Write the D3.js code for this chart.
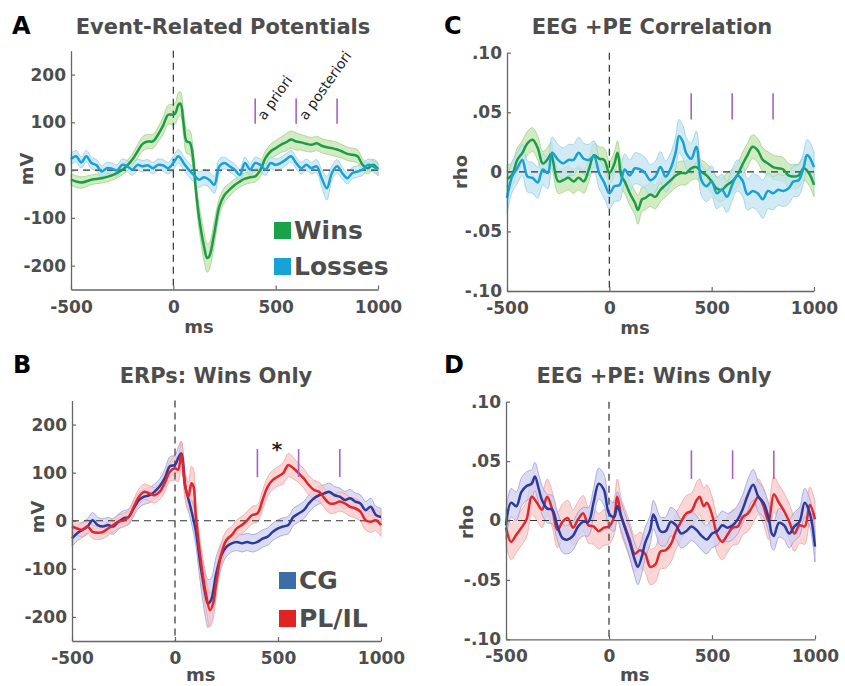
<!DOCTYPE html>
<html>
<head>
<meta charset="utf-8">
<script src="https://cdn.jsdelivr.net/npm/d3@7"></script>
<style>
  body { margin: 0; background: #fff; }
  text { font-family: "DejaVu Sans", sans-serif; }
</style>
</head>
<body>
<div id="fig"></div>
<script>
// [time ms, value, half-width of shaded band]
var winsERP = [[-500,-20,12],[-450,-26,12],[-400,-20,10],[-350,-17,10],[-300,-11,10],[-250,0,10],[-200,22,12],[-175,39,14],[-150,55,15],[-125,60,15],[-100,60,15],[-75,74,15],[-50,93,18],[-25,116,20],[0,116,22],[10,119,22],[25,137,25],[35,139,25],[50,98,25],[65,60,25],[80,58,25],[95,30,22],[110,-41,20],[125,-97,25],[150,-160,30],[165,-184,30],[175,-181,28],[200,-132,25],[225,-76,18],[250,-52,15],[275,-41,14],[300,-31,12],[325,-24,12],[350,-18,12],[375,-15,12],[400,-13,12],[425,0,14],[450,25,15],[475,39,15],[500,46,16],[525,53,16],[550,58,18],[575,64,18],[600,60,18],[625,58,16],[650,55,16],[675,53,15],[700,56,15],[725,51,15],[750,48,15],[775,46,15],[800,43,15],[825,39,14],[850,34,14],[875,32,14],[900,29,14],[925,11,12],[950,4,12],[975,11,12],[1000,2,14]];
var lossesERP = [[-500,23,12],[-475,29,12],[-450,16,12],[-425,29,12],[-400,15,12],[-375,10,12],[-350,-3,12],[-325,4,12],[-300,3,12],[-275,-1,12],[-250,11,12],[-225,8,12],[-200,1,12],[-175,11,12],[-150,8,12],[-125,10,12],[-100,4,12],[-75,11,12],[-50,10,12],[-25,4,12],[0,15,14],[25,29,14],[50,15,14],[75,1,14],[100,-10,15],[125,-20,16],[150,-15,16],[175,-20,16],[200,-31,18],[225,8,15],[250,15,12],[275,8,12],[300,1,12],[325,-10,12],[350,15,12],[375,1,12],[400,15,12],[425,11,12],[450,1,12],[475,15,12],[500,11,12],[525,15,12],[550,22,12],[575,29,12],[600,15,12],[625,4,12],[650,11,12],[675,4,12],[700,8,14],[725,-17,18],[750,-38,25],[775,-6,15],[800,8,14],[825,-6,12],[850,-17,12],[875,-6,12],[900,-3,12],[925,1,12],[950,11,12],[975,8,12],[1000,1,12]];

var winsRho = [[-500,-0.006,0.012],[-475,-0.0025,0.01],[-450,0.010,0.01],[-425,0.016,0.01],[-400,0.024,0.01],[-375,0.027,0.01],[-350,0.020,0.01],[-325,0.007,0.01],[-300,0.011,0.01],[-285,0.015,0.01],[-275,0.009,0.01],[-250,-0.008,0.01],[-225,-0.007,0.01],[-200,-0.005,0.01],[-175,-0.008,0.01],[-150,-0.005,0.01],[-125,-0.008,0.01],[-100,0.002,0.01],[-75,0.014,0.01],[-50,0.011,0.01],[-25,0.010,0.01],[0,-0.001,0.01],[25,0.007,0.01],[40,0.016,0.01],[60,-0.004,0.01],[75,-0.008,0.01],[100,-0.018,0.01],[125,-0.026,0.01],[140,-0.032,0.012],[160,-0.023,0.01],[175,-0.022,0.01],[200,-0.019,0.01],[225,-0.021,0.01],[250,-0.015,0.01],[275,-0.011,0.01],[300,-0.007,0.01],[325,-0.003,0.01],[350,-0.001,0.01],[375,-0.001,0.01],[400,0.003,0.01],[425,0.004,0.01],[450,0.000,0.01],[475,-0.003,0.01],[500,-0.008,0.01],[525,-0.014,0.01],[550,-0.015,0.01],[575,-0.011,0.01],[600,-0.008,0.01],[625,-0.003,0.01],[650,0.006,0.01],[675,0.014,0.01],[700,0.021,0.01],[725,0.018,0.01],[750,0.010,0.01],[775,0.007,0.01],[800,0.004,0.01],[825,0.003,0.01],[850,0.002,0.01],[875,-0.003,0.01],[900,-0.004,0.01],[925,-0.003,0.01],[950,0.003,0.01],[975,-0.001,0.01],[1000,-0.011,0.01]];
var lossesRho = [[-500,-0.022,0.013],[-475,-0.004,0.013],[-450,0.003,0.013],[-425,0.010,0.013],[-400,-0.004,0.013],[-375,-0.005,0.013],[-350,-0.009,0.013],[-325,0.002,0.013],[-300,-0.001,0.013],[-280,0.016,0.013],[-250,0.010,0.013],[-225,0.007,0.013],[-200,0.010,0.013],[-175,0.010,0.013],[-150,0.016,0.013],[-125,0.011,0.013],[-100,0.010,0.013],[-75,0.013,0.013],[-50,-0.001,0.013],[-25,-0.009,0.013],[0,-0.018,0.013],[25,-0.012,0.013],[50,-0.011,0.013],[75,0.002,0.013],[100,-0.003,0.013],[125,0.003,0.013],[150,0.002,0.013],[175,-0.001,0.013],[200,-0.007,0.013],[225,-0.004,0.013],[250,0.004,0.013],[275,-0.004,0.013],[300,0.003,0.013],[325,0.017,0.013],[340,0.030,0.014],[360,0.025,0.014],[375,0.016,0.013],[400,0.011,0.013],[425,0.021,0.013],[450,-0.007,0.013],[475,-0.012,0.013],[500,-0.008,0.013],[525,-0.018,0.013],[550,-0.015,0.013],[575,-0.021,0.013],[600,-0.011,0.013],[625,-0.003,0.013],[650,-0.007,0.013],[675,-0.019,0.013],[700,-0.016,0.014],[725,-0.018,0.015],[750,-0.023,0.016],[775,-0.016,0.015],[800,-0.018,0.014],[825,-0.015,0.013],[850,-0.016,0.013],[875,-0.014,0.013],[900,-0.008,0.013],[925,-0.007,0.013],[950,0.004,0.013],[965,0.014,0.013],[975,0.013,0.013],[1000,0.004,0.013]];

var cgERP = [[-500,-37,16],[-475,-26,16],[-450,-19,16],[-425,-12,16],[-400,1,16],[-375,-9,16],[-350,-12,16],[-325,-9,16],[-300,-12,16],[-275,-2,16],[-250,5,16],[-225,8,16],[-200,26,16],[-175,43,16],[-150,50,16],[-125,53,16],[-100,60,16],[-75,71,16],[-50,88,18],[-25,113,20],[0,116,20],[15,130,22],[30,140,25],[50,71,25],[75,29,25],[100,-19,30],[125,-96,40],[150,-158,48],[160,-172,50],[175,-165,45],[200,-110,35],[225,-72,25],[250,-54,20],[275,-47,18],[300,-44,18],[325,-47,18],[350,-44,18],[375,-47,18],[400,-44,18],[425,-37,18],[450,-33,18],[475,-23,18],[500,-16,18],[525,-12,18],[550,-9,18],[575,8,18],[600,15,18],[625,22,18],[650,36,18],[675,47,18],[700,53,18],[725,57,18],[750,60,18],[775,53,18],[800,50,18],[825,43,18],[850,47,18],[875,40,18],[900,36,18],[925,22,18],[950,29,18],[975,12,18],[1000,8,18]];
var plilERP = [[-500,-12,14],[-475,-16,14],[-450,-19,14],[-425,-12,14],[-400,-23,14],[-375,-25,14],[-350,-23,14],[-325,-16,14],[-300,-9,14],[-275,-2,14],[-250,1,14],[-225,8,14],[-200,29,16],[-175,50,16],[-150,60,16],[-125,57,16],[-100,53,16],[-75,60,16],[-50,78,18],[-25,102,20],[0,109,25],[15,106,25],[30,137,28],[50,71,28],[65,50,30],[80,78,35],[90,71,35],[100,15,30],[125,-82,30],[150,-151,32],[170,-186,35],[185,-172,32],[200,-130,28],[225,-68,22],[250,-40,20],[275,-30,18],[300,-16,18],[325,-9,18],[350,1,18],[375,12,18],[400,15,18],[425,43,20],[450,71,20],[475,85,20],[500,92,20],[525,99,22],[550,116,24],[575,109,22],[600,99,20],[625,88,20],[650,74,20],[675,64,20],[700,60,20],[725,47,20],[750,36,20],[775,36,20],[800,40,20],[825,36,20],[850,29,20],[875,26,20],[900,19,20],[925,1,20],[950,-2,22],[975,1,22],[1000,-9,24]];

var cgRho = [[-500,-0.004,0.012],[-475,0.015,0.012],[-450,0.012,0.012],[-425,0.024,0.012],[-400,0.029,0.012],[-375,0.031,0.012],[-360,0.037,0.012],[-340,0.026,0.012],[-325,0.017,0.012],[-300,0.010,0.012],[-275,0.009,0.012],[-250,-0.005,0.012],[-225,-0.015,0.012],[-200,-0.016,0.012],[-175,-0.013,0.012],[-150,-0.005,0.012],[-125,-0.001,0.012],[-100,-0.001,0.012],[-75,0.015,0.012],[-50,0.031,0.013],[-25,0.026,0.013],[0,0.006,0.012],[25,0.003,0.012],[40,0.012,0.012],[60,0.003,0.012],[75,-0.005,0.012],[100,-0.018,0.013],[125,-0.033,0.014],[140,-0.039,0.015],[160,-0.030,0.014],[175,-0.019,0.013],[200,-0.008,0.012],[215,0.005,0.012],[225,0.002,0.012],[250,-0.009,0.012],[275,-0.009,0.012],[300,-0.001,0.012],[325,-0.004,0.012],[350,-0.011,0.012],[375,-0.009,0.012],[400,-0.005,0.012],[425,-0.008,0.012],[450,-0.013,0.012],[475,-0.016,0.012],[500,-0.011,0.012],[525,-0.009,0.012],[550,-0.004,0.012],[575,-0.006,0.012],[600,-0.004,0.012],[625,0.001,0.012],[650,0.010,0.012],[675,0.022,0.013],[700,0.030,0.013],[725,0.020,0.013],[750,0.015,0.012],[775,0.002,0.012],[790,-0.011,0.012],[800,-0.013,0.012],[825,-0.002,0.012],[850,-0.004,0.012],[875,-0.011,0.012],[900,-0.005,0.012],[925,-0.001,0.012],[950,0.015,0.012],[975,0.006,0.012],[1000,-0.022,0.013]];
var plilRho = [[-500,-0.006,0.015],[-475,-0.018,0.015],[-450,-0.012,0.015],[-425,-0.006,0.015],[-400,0.001,0.015],[-375,0.020,0.015],[-350,0.015,0.015],[-325,0.009,0.015],[-300,0.020,0.015],[-275,0.009,0.015],[-250,-0.008,0.015],[-225,-0.001,0.015],[-200,0.002,0.015],[-175,-0.006,0.015],[-150,0.001,0.015],[-125,0.006,0.015],[-100,-0.004,0.015],[-75,-0.005,0.015],[-50,-0.009,0.015],[-25,-0.006,0.015],[0,-0.005,0.015],[25,0.003,0.015],[40,0.020,0.015],[60,0.003,0.015],[75,-0.004,0.015],[100,-0.016,0.015],[125,-0.028,0.015],[150,-0.025,0.015],[175,-0.028,0.015],[200,-0.039,0.015],[225,-0.037,0.015],[250,-0.026,0.015],[275,-0.025,0.015],[300,-0.020,0.015],[325,-0.009,0.015],[350,-0.001,0.015],[375,0.006,0.015],[400,0.008,0.015],[425,0.017,0.015],[440,0.020,0.015],[460,0.012,0.015],[475,0.015,0.015],[500,0.005,0.015],[525,-0.012,0.015],[550,-0.018,0.015],[575,-0.012,0.015],[600,-0.006,0.015],[625,-0.005,0.015],[650,0.003,0.015],[675,0.006,0.015],[700,0.013,0.015],[725,0.020,0.015],[750,0.012,0.015],[775,-0.001,0.015],[800,0.022,0.015],[825,0.015,0.015],[850,0.008,0.015],[875,-0.001,0.015],[900,-0.011,0.015],[925,-0.004,0.015],[950,-0.005,0.015],[975,0.013,0.015],[1000,0.001,0.015]];

var timeTicks = [-500, 0, 500, 1000];
var erpTicks = [-200, -100, 0, 100, 200];
var rhoTicks = [-0.10, -0.05, 0, 0.05, 0.10];
var windowMarks = [400, 600, 800];
var windowNames = ["a priori", "a posteriori"];

var W = 845, H = 686;
var svg = d3.select("#fig").append("svg")
    .attr("width", W).attr("height", H)
    .style("background", "#fff");

var GRAY = "#4d4d4d";
var colors = {
    wins:   {line: "#1d9c47", band: "#c4e4ad", edge: "#9fd283", key: "#1aa24a"},
    losses: {line: "#17a1d6", band: "#c2e3f0", edge: "#93cfe6", key: "#18a3d8"},
    cg:     {line: "#2b3a9e", band: "#cfcff0", edge: "#9d9dd6", key: "#3b6ea8"},
    plil:   {line: "#e2262b", band: "#f8c8c8", edge: "#f1a3a3", key: "#e02424"}
};

// plain hyphen minus, no thousands separator
function intFmt(d){ return String(d); }
function rhoFmt(d){
    if (d == 0) return "0";
    var s = Math.abs(d).toFixed(2).replace("0.", ".");
    return d < 0 ? "-" + s : s;
}

function drawPanel(p){
    var g = svg.append("g");
    var x = d3.scaleLinear().domain([-500, 1000]).range([p.x0, p.x1]);
    var y = d3.scaleLinear().domain(p.yDomain).range([p.y1, p.y0]);

    // shaded error bands
    p.series.forEach(function(s){
        var area = d3.area()
            .curve(d3.curveCatmullRom)
            .x(function(d){ return x(d[0]); })
            .y0(function(d){ return y(d[1] - d[2]); })
            .y1(function(d){ return y(d[1] + d[2]); });
        g.append("path").datum(s.data)
            .attr("d", area)
            .attr("fill", colors[s.key].band)
            .attr("fill-opacity", 0.75)
            .attr("stroke", colors[s.key].edge)
            .attr("stroke-width", 0.8);
    });

    // zero lines
    g.append("line")
        .attr("x1", p.x0).attr("x2", p.x1)
        .attr("y1", y(0)).attr("y2", y(0))
        .attr("stroke", "#333").attr("stroke-width", 1.2)
        .attr("stroke-dasharray", "7,5");
    g.append("line")
        .attr("x1", x(0)).attr("x2", x(0))
        .attr("y1", p.y0).attr("y2", p.y1)
        .attr("stroke", "#333").attr("stroke-width", 1.2)
        .attr("stroke-dasharray", "7,5");

    p.series.forEach(function(s){
        var line = d3.line()
            .curve(d3.curveCatmullRom)
            .x(function(d){ return x(d[0]); })
            .y(function(d){ return y(d[1]); });
        g.append("path").datum(s.data)
            .attr("d", line)
            .attr("fill", "none")
            .attr("stroke", colors[s.key].line)
            .attr("stroke-width", 2.5);
    });

    // purple window marks
    windowMarks.forEach(function(t){
        g.append("line")
            .attr("x1", x(t)).attr("x2", x(t))
            .attr("y1", y(p.markRange[0])).attr("y2", y(p.markRange[1]))
            .attr("stroke", "#a463c6").attr("stroke-width", 1.6);
    });

    // axes
    var xAxis = d3.axisBottom(x).tickValues(timeTicks)
        .tickSizeInner(-4).tickSizeOuter(0).tickPadding(11)
        .tickFormat(intFmt);
    var yAxis = d3.axisLeft(y).tickValues(p.ticks)
        .tickSizeInner(-4).tickSizeOuter(0).tickPadding(5)
        .tickFormat(p.fmt);
    var gx = g.append("g").attr("transform", "translate(0," + p.y1 + ")").call(xAxis);
    var gy = g.append("g").attr("transform", "translate(" + p.x0 + ",0)").call(yAxis);
    [gx, gy].forEach(function(a){
        a.select(".domain").attr("stroke", "#666").attr("stroke-width", 1.3);
        a.selectAll(".tick line").attr("stroke", "#666").attr("stroke-width", 1.2);
        a.selectAll(".tick text")
            .attr("fill", GRAY)
            .style("font-family", "DejaVu Sans")
            .style("font-weight", "bold")
            .style("font-size", "17px");
    });

    g.append("text")
        .attr("x", x(125)).attr("y", Math.min(p.y1 + 43, H - 5))
        .attr("text-anchor", "middle")
        .attr("fill", GRAY)
        .style("font-weight", "bold").style("font-size", "18px")
        .text("ms");

    g.append("text")
        .attr("transform", "translate(" + p.ylabX + "," + p.ylabY + ") rotate(-90)")
        .attr("text-anchor", "middle")
        .attr("fill", GRAY)
        .style("font-weight", "bold").style("font-size", "18px")
        .text(p.ylab);

    g.append("text")
        .attr("x", p.titleX).attr("y", p.titleY)
        .attr("text-anchor", "middle")
        .attr("fill", GRAY)
        .style("font-weight", "bold").style("font-size", "21px")
        .text(p.title);

    g.append("text")
        .attr("x", p.letterX).attr("y", p.letterY)
        .attr("fill", "#000")
        .style("font-weight", "bold").style("font-size", "24px")
        .text(p.letter);

    if (p.legend){
        p.series.forEach(function(s, i){
            var top = p.legend[1] + i * p.legend[2];
            g.append("rect")
                .attr("x", p.legend[0]).attr("y", top)
                .attr("width", 17).attr("height", 17)
                .attr("fill", colors[s.key].key);
            g.append("text")
                .attr("x", p.legend[0] + 20).attr("y", top + 17)
                .attr("fill", GRAY)
                .style("font-weight", "bold").style("font-size", "25px")
                .text(s.name);
        });
    }
    return {g: g, x: x, y: y};
}

var A = drawPanel({
    letter: "A", letterX: 12, letterY: 34,
    title: "Event-Related Potentials", titleX: 223, titleY: 34,
    x0: 71, x1: 378, y0: 50.7, y1: 289.5,
    yDomain: [-250, 250], ticks: erpTicks, fmt: intFmt,
    ylab: "mV", ylabX: 33, ylabY: 169,
    markRange: [97, 150],
    series: [{key: "wins", name: "Wins", data: winsERP}, {key: "losses", name: "Losses", data: lossesERP}],
    legend: [274, 222, 36]
});
var C = drawPanel({
    letter: "C", letterX: 444, letterY: 34,
    title: "EEG +PE Correlation", titleX: 652, titleY: 34,
    x0: 507, x1: 814, y0: 52.7, y1: 291,
    yDomain: [-0.1, 0.1], ticks: rhoTicks, fmt: rhoFmt,
    ylab: "rho", ylabX: 467, ylabY: 172,
    markRange: [0.044, 0.066],
    series: [{key: "wins", name: "Wins", data: winsRho}, {key: "losses", name: "Losses", data: lossesRho}]
});
var B = drawPanel({
    letter: "B", letterX: 13, letterY: 373,
    title: "ERPs: Wins Only", titleX: 216, titleY: 383,
    x0: 72, x1: 381, y0: 400.5, y1: 641,
    yDomain: [-250, 250], ticks: erpTicks, fmt: intFmt,
    ylab: "mV", ylabX: 44, ylabY: 517,
    markRange: [91, 149],
    series: [{key: "cg", name: "CG", data: cgERP}, {key: "plil", name: "PL/IL", data: plilERP}],
    legend: [279, 572, 38]
});
var D = drawPanel({
    letter: "D", letterX: 444, letterY: 373,
    title: "EEG +PE: Wins Only", titleX: 654, titleY: 383,
    x0: 506, x1: 815, y0: 401.7, y1: 639.3,
    yDomain: [-0.1, 0.1], ticks: rhoTicks, fmt: rhoFmt,
    ylab: "rho", ylabX: 473, ylabY: 522,
    markRange: [0.035, 0.059],
    series: [{key: "plil", name: "PL/IL", data: plilRho}, {key: "cg", name: "CG", data: cgRho}]
});

// window names in panel A
[[445, 103], [650, 103]].forEach(function(pos, i){
    A.g.append("text")
        .attr("transform", "translate(" + A.x(pos[0]) + "," + A.y(pos[1]) + ") rotate(-55)")
        .attr("fill", "#222")
        .style("font-size", "14px")
        .text(windowNames[i]);
});

// significance star in panel B
B.g.append("text")
    .attr("x", B.x(495)).attr("y", B.y(157) + 11)
    .attr("text-anchor", "middle")
    .attr("fill", "#222")
    .style("font-weight", "bold").style("font-size", "20px")
    .text("*");
</script>
</body>
</html>
